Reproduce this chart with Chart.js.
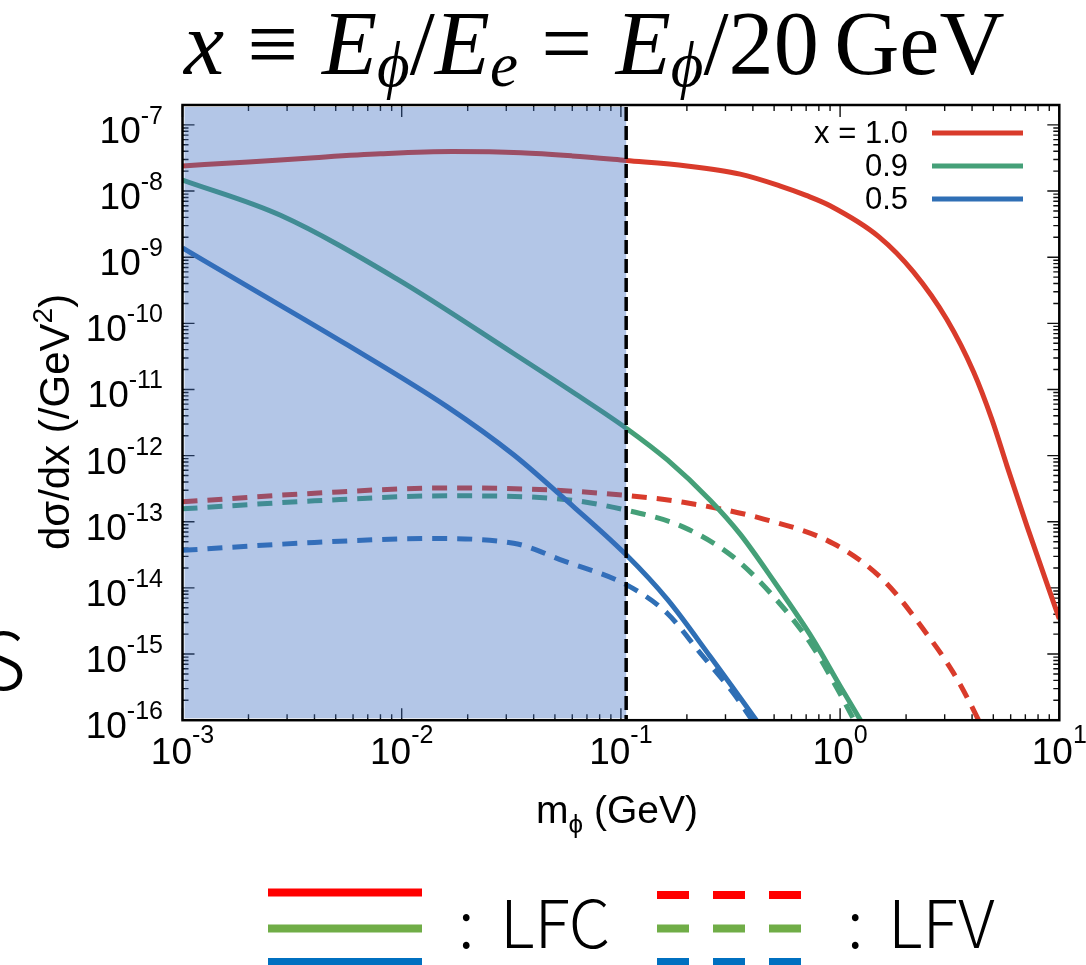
<!DOCTYPE html>
<html>
<head>
<meta charset="utf-8">
<script src="https://cdn.jsdelivr.net/npm/chart.js@4.4.1/dist/chart.umd.min.js"></script>
<style>
  html, body { margin: 0; padding: 0; background: #fff; }
  #wrap { position: relative; width: 1086px; height: 965px; overflow: hidden; }
  canvas { display: block; }
</style>
</head>
<body>
<div id="wrap"><canvas id="xsecChart" width="1086" height="965"></canvas></div>
<script>
// m_phi in GeV, dsigma/dx in /GeV^2
const massLfc10 = [0.001, 0.002, 0.004, 0.008, 0.017, 0.035, 0.06, 0.1057, 0.2, 0.35, 0.53, 0.7, 0.9, 1.5, 2.16, 3.07, 4.07, 4.93, 5.77, 7.12, 10]
const lfc10 = [2.4e-8, 2.75e-8, 3.2e-8, 3.65e-8, 3.95e-8, 3.8e-8, 3.4e-8, 2.9e-8, 2.4e-8, 1.8e-8, 1.2e-8, 8.6e-9, 6.0e-9, 2.05e-9, 6.0e-10, 1.14e-10, 1.82e-11, 3.5e-12, 7.0e-13, 8.6e-14, 3.4e-15]

const massLfc09 = [0.001, 0.0028, 0.0095, 0.0324, 0.0607, 0.1057, 0.163, 0.256, 0.35, 0.5, 0.75, 1.0, 1.25]
const lfc09 = [1.47e-8, 4.3e-9, 4.7e-10, 3.5e-11, 9e-12, 2.6e-12, 8.6e-13, 2.1e-13, 6.5e-14, 1.25e-14, 1.7e-15, 3.3e-16, 9.5e-17]

const massLfc05 = [0.001, 0.00197, 0.0056, 0.0161, 0.0324, 0.053, 0.1057, 0.163, 0.256, 0.41, 0.46]
const lfc05 = [1.38e-9, 3.69e-10, 4.8e-11, 5.5e-12, 1.03e-12, 2.52e-13, 3.17e-14, 6.7e-15, 9.1e-16, 1.05e-16, 6.1e-17]

const massLfv10 = [0.001, 0.004, 0.0161, 0.05, 0.1057, 0.193, 0.448, 0.935, 1.58, 2.49, 3.3, 4.14, 4.5]
const lfv10 = [2.0e-13, 2.7e-13, 3.25e-13, 3.0e-13, 2.5e-13, 1.97e-13, 1.1e-13, 4.65e-14, 1.3e-14, 2.0e-15, 5.1e-16, 1.26e-16, 7e-17]

const massLfv09 = [0.001, 0.004, 0.0161, 0.05, 0.1057, 0.193, 0.327, 0.515, 0.75, 1.0, 1.2]
const lfv09 = [1.57e-13, 2.07e-13, 2.47e-13, 2.25e-13, 1.5e-13, 8.3e-14, 2.9e-14, 6.5e-15, 1.3e-15, 2.5e-16, 8e-17]

const massLfv05 = [0.001, 0.004, 0.0135, 0.0324, 0.0548, 0.1057, 0.163, 0.231, 0.327, 0.398, 0.45]
const lfv05 = [3.7e-14, 4.87e-14, 5.58e-14, 4.74e-14, 2.56e-14, 1.12e-14, 4.1e-15, 1.02e-15, 2.53e-16, 1.0e-16, 6e-17]

const muonMass = 0.1057
const xTickExponents = [-3, -2, -1, 0, 1]
const yTickExponents = [-16, -15, -14, -13, -12, -11, -10, -9, -8, -7]
const curveLabels = ['x = 1.0', '0.9', '0.5']

const curveColors = ['#d93b2b', '#45a078', '#2f6fb5']
const keyColors = ['#ff0000', '#70ad47', '#0070c0']
const SANS = '"Liberation Sans", Arial, sans-serif'
const SERIF = '"Liberation Serif", "DejaVu Serif", serif'
const JP = '"Noto Sans CJK JP", "Noto Sans", sans-serif'

function series(masses, values, color, dash) {
    return {
        data: masses.map((m, i) => ({ x: m, y: values[i] })),
        borderColor: color,
        borderWidth: 5,
        borderDash: dash,
        pointRadius: 0,
        fill: false,
        cubicInterpolationMode: 'monotone',
        clip: 0
    }
}

// superscripted "10^n" label
function powerLabel(ctx, exp, x, y, align, rise) {
    ctx.font = '37px ' + SANS
    const wb = ctx.measureText('10').width
    ctx.font = '25px ' + SANS
    const sup = String(exp)
    const ws = ctx.measureText(sup).width
    const left = align === 'right' ? x - wb - ws : x - (wb + ws) / 2
    ctx.textAlign = 'left'
    ctx.textBaseline = 'alphabetic'
    ctx.font = '37px ' + SANS
    ctx.fillText('10', left, y)
    ctx.font = '25px ' + SANS
    ctx.fillText(sup, left + wb, y - rise)
}

// a row of text runs: [text, font, dy]; a bare number is a gap
function runs(ctx, parts, x, y) {
    let cx = x
    parts.forEach(p => {
        if (typeof p === 'number') { cx += p; return }
        ctx.font = p[1]
        ctx.fillText(p[0], cx, y + (p[2] || 0))
        cx += ctx.measureText(p[0]).width
    })
}

function runsWidth(ctx, parts) {
    let w = 0
    parts.forEach(p => {
        if (typeof p === 'number') { w += p; return }
        ctx.font = p[1]
        w += ctx.measureText(p[0]).width
    })
    return w
}

function titleParts(s) {
    const it = 'italic ' + s + 'px ' + SERIF
    const rm = s + 'px ' + SERIF
    const sb = 'italic ' + Math.round(s * 0.7) + 'px ' + SERIF
    const dy = s * 0.13
    const g = s * 0.26
    return [
        ['x', it], g, ['≡', rm], g, ['E', it], ['ϕ', sb, dy], ['/', rm], ['E', it], ['e', sb, dy],
        g, ['=', rm], g, ['E', it], ['ϕ', sb, dy], ['/', rm], ['20', rm], s * 0.17, ['GeV', rm]
    ]
}

const framePlugin = {
    id: 'frame',
    beforeDatasetsDraw(chart) {
        const { ctx, chartArea: a, scales: { x, y } } = chart
        ctx.save()
        ctx.strokeStyle = '#111'
        ctx.lineWidth = 1.4
        ctx.beginPath()
        for (let k = -3; k <= 1; k++) {
            for (let j = 1; j <= 9; j++) {
                const v = j * Math.pow(10, k)
                if (v > 10.0001) break
                const px = x.getPixelForValue(v)
                const len = j === 1 ? 12 : 6
                ctx.moveTo(px, a.bottom); ctx.lineTo(px, a.bottom - len)
                ctx.moveTo(px, a.top); ctx.lineTo(px, a.top + len)
            }
        }
        for (let k = -16; k <= -7; k++) {
            for (let j = 1; j <= 9; j++) {
                const v = j * Math.pow(10, k)
                if (v > 2.0001e-7) break
                const py = y.getPixelForValue(v)
                const len = j === 1 ? 12 : 6
                ctx.moveTo(a.left, py); ctx.lineTo(a.left + len, py)
                ctx.moveTo(a.right, py); ctx.lineTo(a.right - len, py)
            }
        }
        ctx.stroke()
        ctx.restore()
    },
    afterDatasetsDraw(chart) {
        const { ctx, chartArea: a, scales: { x, y } } = chart
        const xm = x.getPixelForValue(muonMass)
        ctx.save()

        // region below the muon mass
        ctx.fillStyle = 'rgba(60, 109, 193, 0.39)'
        ctx.fillRect(a.left + 2, a.top + 2, xm - a.left - 2, a.bottom - a.top - 4)

        ctx.strokeStyle = '#000'
        ctx.lineWidth = 3.5
        ctx.setLineDash([14, 5])
        ctx.beginPath()
        ctx.moveTo(xm, a.top + 2)
        ctx.lineTo(xm, a.bottom)
        ctx.stroke()
        ctx.setLineDash([])

        ctx.lineWidth = 2.5
        ctx.strokeRect(a.left, a.top, a.right - a.left, a.bottom - a.top)

        // tick labels
        ctx.fillStyle = '#000'
        yTickExponents.forEach(e => {
            const py = y.getPixelForValue(Math.pow(10, e))
            powerLabel(ctx, e, 163, py + 18, 'right', 19)
        })
        xTickExponents.forEach(e => {
            const px = x.getPixelForValue(Math.pow(10, e))
            powerLabel(ctx, e, px, a.bottom + 44, 'center', 21)
        })

        // axis titles
        const xt = [['m', '39px ' + SANS], ['ϕ', '26px ' + SANS, 10], [' (GeV)', '39px ' + SANS]]
        runs(ctx, xt, 617 - runsWidth(ctx, xt) / 2, 823)

        const yt = [['dσ/dx (/GeV', '42px ' + SANS], ['2', '28px ' + SANS, -17], [')', '42px ' + SANS]]
        ctx.save()
        ctx.translate(69, 422)
        ctx.rotate(-Math.PI / 2)
        runs(ctx, yt, -runsWidth(ctx, yt) / 2, 0)
        ctx.restore()

        // curve key
        ctx.font = '31px ' + SANS
        ctx.textAlign = 'right'
        ctx.textBaseline = 'middle'
        curveLabels.forEach((t, i) => {
            const ly = 133 + i * 33
            ctx.fillStyle = '#000'
            ctx.fillText(t, 908, ly + 1)
            ctx.strokeStyle = curveColors[i]
            ctx.lineWidth = 5
            ctx.beginPath()
            ctx.moveTo(932, ly)
            ctx.lineTo(1023, ly)
            ctx.stroke()
        })
        ctx.restore()
    },
    afterDraw(chart) {
        const ctx = chart.ctx
        ctx.save()
        ctx.fillStyle = '#000'
        ctx.textAlign = 'left'
        ctx.textBaseline = 'alphabetic'

        // title, sized to span 184..1005
        const w80 = runsWidth(ctx, titleParts(80))
        const ts = 80 * 821 / w80
        runs(ctx, titleParts(ts), 184, 74)

        // line style key below the plot
        ctx.lineWidth = 8
        const rowsY = [892.5, 928.5, 962]
        keyColors.forEach((c, i) => {
            const dy = i === 0 ? 2.5 : 0
            ctx.strokeStyle = c
            ctx.setLineDash([])
            ctx.beginPath()
            ctx.moveTo(268, rowsY[i]); ctx.lineTo(422, rowsY[i])
            ctx.stroke()
            ctx.setLineDash([32, 24])
            ctx.beginPath()
            ctx.moveTo(657, rowsY[i] + dy); ctx.lineTo(801, rowsY[i] + dy)
            ctx.stroke()
        })
        ctx.setLineDash([])
        ctx.font = '300 66px ' + JP
        ctx.fillText(':', 458, 948)
        ctx.fillText('LFC', 500, 948)
        ctx.fillText(':', 847, 948)
        ctx.fillText('LFV', 888, 948)

        ctx.font = '300 80px ' + JP
        ctx.textAlign = 'right'
        ctx.fillText('S', 26, 690)
        ctx.restore()
    }
}

new Chart(document.getElementById('xsecChart'), {
    type: 'line',
    data: {
        datasets: [
            series(massLfc10, lfc10, curveColors[0], []),
            series(massLfc09, lfc09, curveColors[1], []),
            series(massLfc05, lfc05, curveColors[2], []),
            series(massLfv10, lfv10, curveColors[0], [15, 10]),
            series(massLfv09, lfv09, curveColors[1], [15, 10]),
            series(massLfv05, lfv05, curveColors[2], [15, 10])
        ]
    },
    options: {
        responsive: false,
        animation: false,
        devicePixelRatio: 1,
        layout: { padding: { left: 182.5, top: 105, right: 26.7, bottom: 244.8 } },
        plugins: { legend: { display: false }, tooltip: { enabled: false } },
        scales: {
            x: { type: 'logarithmic', min: 1e-3, max: 10, display: false },
            y: { type: 'logarithmic', min: 1e-16, max: 2e-7, display: false }
        }
    },
    plugins: [framePlugin]
})
</script>
</body>
</html>
